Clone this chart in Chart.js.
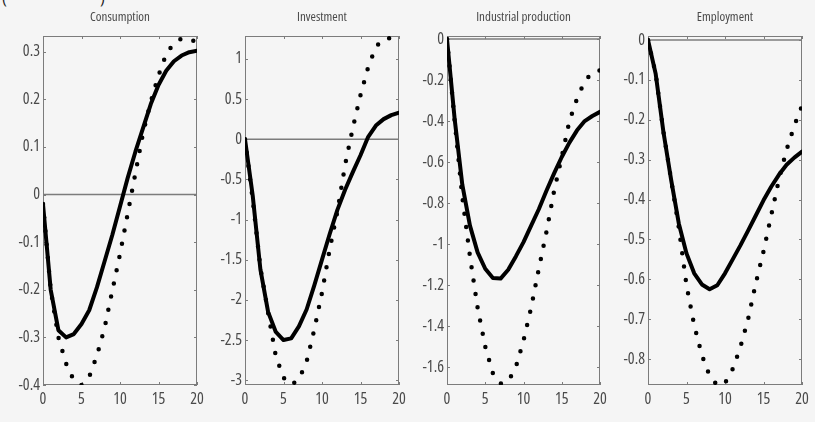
<!DOCTYPE html>
<html>
<head>
<meta charset="utf-8">
<script src="https://cdn.jsdelivr.net/npm/chart.js@4.4.1/dist/chart.umd.min.js"></script>
<style>
  html, body { margin:0; padding:0; background:#f5f5f5; width:815px; height:422px; overflow:hidden; position:relative; }
  .cap { position:absolute; top:-14px; font-size:17px; color:#222; font-family:'Open Sans'; font-stretch:condensed; }
  canvas { position:absolute; top:0; }
</style>
</head>
<body>
<div class="cap" style="left:2px">(</div>
<div class="cap" style="left:100px">)</div>
<canvas id="c0"></canvas>
<canvas id="c1"></canvas>
<canvas id="c2"></canvas>
<canvas id="c3"></canvas>
<script>
// ---------- data ----------
const steps = [0,1,2,3,4,5,6,7,8,9,10,11,12,13,14,15,16,17,18,19,20];
const xTickValues = [0,5,10,15,20];
const titles = ['Consumption','Investment','Industrial production','Employment'];

const consumptionSolid  = [-0.02,-0.2,-0.285,-0.3,-0.293,-0.272,-0.243,-0.195,-0.14,-0.085,-0.025,0.035,0.09,0.14,0.19,0.23,0.26,0.28,0.292,0.299,0.302];
const consumptionDotted = [-0.02,-0.2,-0.3,-0.355,-0.39,-0.4,-0.383,-0.338,-0.28,-0.202,-0.125,-0.04,0.045,0.13,0.195,0.25,0.295,0.318,0.328,0.326,0.32];
const consumptionTicks  = [-0.4,-0.3,-0.2,-0.1,0,0.1,0.2,0.3];
const consumptionRange  = [-0.4, 0.333];

const investmentSolid  = [0,-0.7,-1.62,-2.15,-2.4,-2.5,-2.48,-2.33,-2.12,-1.82,-1.5,-1.18,-0.88,-0.63,-0.41,-0.2,0.03,0.17,0.25,0.3,0.33];
const investmentDotted = [0,-0.75,-1.6,-2.16,-2.7,-2.97,-3.06,-2.99,-2.77,-2.37,-1.91,-1.37,-0.9,-0.32,0.14,0.55,0.9,1.15,1.25,1.26,1.26];
const investmentTicks  = [-3,-2.5,-2,-1.5,-1,-0.5,0,0.5,1];
const investmentRange  = [-3.06, 1.285];

const industrialSolid  = [0,-0.39,-0.71,-0.91,-1.04,-1.12,-1.165,-1.168,-1.125,-1.06,-0.99,-0.91,-0.83,-0.74,-0.655,-0.575,-0.505,-0.445,-0.4,-0.375,-0.355];
const industrialDotted = [0,-0.4,-0.77,-1.06,-1.31,-1.5,-1.63,-1.68,-1.67,-1.6,-1.47,-1.31,-1.12,-0.94,-0.74,-0.575,-0.4,-0.29,-0.206,-0.163,-0.152];
const industrialTicks  = [-1.6,-1.4,-1.2,-1,-0.8,-0.6,-0.4,-0.2,0];
const industrialRange  = [-1.687, 0.015];

const employmentSolid  = [0,-0.085,-0.23,-0.35,-0.46,-0.535,-0.585,-0.613,-0.625,-0.615,-0.585,-0.55,-0.515,-0.478,-0.44,-0.402,-0.368,-0.338,-0.313,-0.295,-0.28];
const employmentDotted = [0,-0.085,-0.23,-0.35,-0.47,-0.615,-0.715,-0.79,-0.842,-0.866,-0.86,-0.825,-0.77,-0.7,-0.61,-0.53,-0.44,-0.35,-0.275,-0.215,-0.165];
const employmentTicks  = [-0.8,-0.7,-0.6,-0.5,-0.4,-0.3,-0.2,-0.1,0];
const employmentRange  = [-0.865, 0.01];

// ---------- layout ----------
const FONT = "'Open Sans',sans-serif";
const panels = [
  {title:titles[0], solid:consumptionSolid, dotted:consumptionDotted, ticks:consumptionTicks, range:consumptionRange, left:43,  width:154},
  {title:titles[1], solid:investmentSolid,  dotted:investmentDotted,  ticks:investmentTicks,  range:investmentRange,  left:245, width:154},
  {title:titles[2], solid:industrialSolid,  dotted:industrialDotted,  ticks:industrialTicks,  range:industrialRange,  left:447, width:153},
  {title:titles[3], solid:employmentSolid,  dotted:employmentDotted,  ticks:employmentTicks,  range:employmentRange,  left:648, width:154}
];
const AXW = 40, CH = 422, XH = 37;

const framePlugin = {
  id:'frame',
  beforeDatasetsDraw(chart){
    const {ctx, chartArea:a, scales} = chart;
    ctx.save();
    ctx.strokeStyle = '#7c7c7c';
    ctx.lineWidth = 1;
    ctx.strokeRect(a.left+0.5, a.top+0.5, a.right-a.left-1, a.bottom-a.top-1);
    ctx.beginPath();
    scales.y.ticks.forEach(t => {
      const py = Math.round(scales.y.getPixelForValue(t.value)) + 0.5;
      ctx.moveTo(a.left, py); ctx.lineTo(a.left+3, py);
      ctx.moveTo(a.right-3, py); ctx.lineTo(a.right, py);
    });
    scales.x.ticks.forEach(t => {
      const px = Math.round(scales.x.getPixelForValue(t.value)) + 0.5;
      ctx.moveTo(px, a.bottom); ctx.lineTo(px, a.bottom-3);
      ctx.moveTo(px, a.top); ctx.lineTo(px, a.top+3);
    });
    ctx.stroke();
    ctx.restore();
  }
};

panels.forEach((p, i) => {
  const cv = document.getElementById('c'+i);
  cv.width = p.width + 2*AXW; cv.height = CH;
  cv.style.left = (p.left - AXW) + 'px';
  cv.style.width = cv.width + 'px'; cv.style.height = CH + 'px';
  const toPts = arr => steps.map((s, k) => ({x:s, y:arr[k]}));
  new Chart(cv, {
    type:'line',
    data:{ datasets:[
      {data:toPts(p.dotted), borderColor:'#000', borderWidth:4.5, borderDash:[0,13.5], borderCapStyle:'round', borderJoinStyle:'round', pointRadius:0, tension:0, fill:false},
      {data:toPts(p.solid), borderColor:'#000', borderWidth:4, borderCapStyle:'round', borderJoinStyle:'round', pointRadius:0, tension:0, fill:false},
      {data:[{x:steps[0], y:0},{x:steps[steps.length-1], y:0}], borderColor:'#7c7c7c', borderWidth:1.5, pointRadius:0, fill:false}
    ]},
    options:{
      responsive:false, animation:false, devicePixelRatio:1,
      layout:{padding:{left:0, right:AXW, top:0, bottom:0}},
      plugins:{
        legend:{display:false}, tooltip:{enabled:false},
        title:{display:true, fullSize:false, text:p.title, color:'#4a4a4a', font:{family:FONT, size:13, weight:'condensed', lineHeight:1}, padding:{top:10.5, bottom:12.5}}
      },
      scales:{
        x:{type:'linear', min:0, max:20,
           afterBuildTicks:s => { s.ticks = xTickValues.map(v => ({value:v})); },
           afterFit:s => { s.height = XH; },
           grid:{display:false, drawTicks:false}, border:{display:false},
           ticks:{color:'#4a4a4a', font:{family:FONT, size:16, weight:'condensed'}, padding:5, maxRotation:0, autoSkip:false, callback:v => String(v)}},
        y:{type:'linear', min:p.range[0], max:p.range[1],
           afterBuildTicks:s => { s.ticks = p.ticks.map(v => ({value:v})); },
           afterFit:s => { s.width = AXW; },
           grid:{display:false, drawTicks:false}, border:{display:false},
           ticks:{color:'#4a4a4a', font:{family:FONT, size:16, weight:'condensed'}, padding:3, autoSkip:false, callback:v => String(v)}}
      }
    },
    plugins:[framePlugin]
  });
});
</script>
</body>
</html>
